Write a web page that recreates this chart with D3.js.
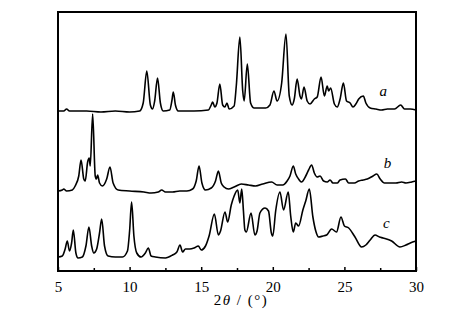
<!DOCTYPE html>
<html lang="en">
<head>
<meta charset="UTF-8" />
<title>XRD patterns</title>
<script src="https://d3js.org/d3.v7.js"></script>
<style>
    body { margin: 0; background: #fff; }
    svg { display: block; }
    text { font-family: "Liberation Serif", serif; }
</style>
</head>
<body>
<script>
    var w = 473;
    var h = 325;

    // 2theta (deg), intensity (arb. units, traces already offset)
    var traceA = [
        [5.0,160],[5.4,160],[5.6,162],[5.8,160],[7,160],[8,159],[9,160],[10,159],[10.7,160],
        [10.95,168],[11.2,200],[11.45,166],[11.6,162],[11.75,170],[11.95,193],[12.15,168],[12.35,160],
        [12.8,161],[12.95,170],[13.05,179],[13.2,166],[13.4,160],[14.5,160],[15.5,161],[15.7,166],
        [15.8,169],[15.95,164],[16.1,168],[16.3,187],[16.5,166],[16.65,164],[16.8,168],[16.95,162],
        [17.3,165],[17.45,185],[17.7,234],[17.9,180],[18.0,170],[18.22,207],[18.45,168],[18.7,163],
        [19.5,163],[19.8,166],[20.08,180],[20.3,170],[20.62,188],[20.92,237],[21.15,175],[21.35,166],
        [21.5,172],[21.7,192],[21.9,175],[22.0,172],[22.18,184],[22.4,170],[22.6,167],[22.9,172],
        [23.1,174],[23.37,194],[23.6,175],[23.8,185],[23.9,180],[24.04,183],[24.3,167],[24.5,164],
        [24.7,172],[24.93,188],[25.15,170],[25.4,168],[25.6,164],[25.8,167],[26.0,172],[26.32,175],
        [26.5,168],[26.8,163],[27.2,162],[27.6,161],[28.0,162],[28.5,162],[28.93,166],[29.2,162],
        [29.6,162],[30,161]
    ];
    var traceB = [
        [5.0,80],[5.3,81],[5.4,82],[5.6,80],[6.0,81],[6.2,85],[6.45,95],[6.61,111],[6.8,92],[6.9,90],
        [7.07,109],[7.18,113],[7.25,105],[7.42,157],[7.6,95],[7.68,92],[7.77,96],[7.9,88],[8.1,85],
        [8.4,92],[8.63,104],[8.85,88],[9.2,81],[10,80],[11,79],[11.5,78],[12.0,79],[12.24,81],[12.5,79],
        [13,79],[13.5,80],[14.0,80],[14.4,82],[14.65,90],[14.85,105],[15.05,88],[15.3,81],[15.7,83],
        [16.0,90],[16.2,100],[16.4,88],[16.6,84],[16.9,82],[17.3,84],[17.8,87],[18.3,86],[18.8,85],
        [19.3,87],[19.92,89],[20.3,86],[20.7,86],[21.0,90],[21.2,95],[21.43,105],[21.6,97],[21.8,92],
        [22.0,89],[22.3,95],[22.5,101],[22.71,106],[22.9,98],[23.1,94],[23.3,95],[23.55,90],[23.8,89],
        [24.0,91],[24.2,88],[24.5,88],[24.7,91],[25.07,92],[25.3,88],[25.7,88],[26.0,90],[26.3,91],
        [26.6,92],[27.0,95],[27.26,97],[27.5,92],[27.8,88],[28.2,88],[28.6,88],[29.0,89],[29.3,88],
        [29.7,89],[30,90]
    ];
    var traceC = [
        [5.0,14],[5.3,15],[5.5,22],[5.65,30],[5.8,20],[5.95,28],[6.07,41],[6.25,18],[6.4,13],[6.7,14],
        [6.95,25],[7.16,44],[7.35,25],[7.5,18],[7.7,22],[7.9,38],[8.05,52],[8.25,25],[8.5,15],[9.0,14],
        [9.5,14],[9.85,20],[10.0,40],[10.14,69],[10.3,35],[10.5,18],[10.8,14],[11.1,18],[11.31,23],
        [11.5,15],[11.8,14],[12.5,13],[13.0,16],[13.3,19],[13.52,26],[13.7,19],[13.9,22],[14.2,22],
        [14.5,23],[14.8,25],[15.0,21],[15.3,25],[15.55,35],[15.92,57],[16.2,36],[16.35,40],[16.66,59],
        [16.85,49],[17.1,66],[17.3,75],[17.55,81],[17.7,68],[17.83,82],[17.95,60],[18.05,41],[18.15,39],
        [18.48,58],[18.75,36],[18.9,40],[19.1,58],[19.46,63],[19.7,60],[19.9,38],[20.0,35],[20.2,60],
        [20.5,79],[20.75,61],[21.08,79],[21.25,55],[21.43,39],[21.6,48],[21.8,45],[22.1,61],[22.3,70],
        [22.55,82],[22.8,54],[23.0,40],[23.2,34],[23.5,35],[23.76,36],[24.11,42],[24.45,39],[24.76,54],
        [25.0,45],[25.3,43],[25.74,34],[26.2,24],[26.5,26],[26.8,31],[27.14,36],[27.45,34],[27.7,33],
        [28.3,30],[28.88,24],[29.3,26],[29.6,28],[30,30]
    ];
    var traces = [traceA, traceB, traceC];
    var traceNames = ["a", "b", "c"];
    // label anchor points (2theta, intensity)
    var labelPos = [[27.45, 175], [27.75, 103], [27.7, 43]];

    var majorTicks = [5, 10, 15, 20, 25, 30];
    var minorTicks = [7.5, 12.5, 17.5, 22.5, 27.5];

    var margin = {left: 58, top: 12, right: 57, bottom: 54};
    var pw = w - margin.left - margin.right;
    var ph = h - margin.top - margin.bottom;

    var svg = d3.select("body")
                .append("svg")
                .attr("width", w)
                .attr("height", h);

    var xScale = d3.scaleLinear()
        .domain([5, 30])
        .range([margin.left, margin.left + pw]);

    var yScale = d3.scaleLinear()
        .domain([0, ph])
        .range([margin.top + ph, margin.top]);

    var line = d3.line()
        .curve(d3.curveMonotoneX)
        .x(function(d){ return xScale(d[0]); })
        .y(function(d){ return yScale(d[1]); });

    svg.selectAll(".trace")
        .data(traces)
        .enter()
        .append("path")
        .attr("class", "trace")
        .attr("d", line)
        .attr("fill", "none")
        .attr("stroke", "#000")
        .attr("stroke-width", 1.6)
        .attr("stroke-linejoin", "round");

    svg.selectAll(".lbl")
        .data(traceNames)
        .enter()
        .append("text")
        .attr("class", "lbl")
        .attr("x", function(d, i){ return xScale(labelPos[i][0]); })
        .attr("y", function(d, i){ return yScale(labelPos[i][1]); })
        .style("font-style", "italic")
        .style("font-size", "15px")
        .text(function(d){ return d; });

    // frame
    svg.append("rect")
        .attr("x", margin.left)
        .attr("y", margin.top)
        .attr("width", pw)
        .attr("height", ph)
        .attr("fill", "none")
        .attr("stroke", "#000")
        .attr("stroke-width", 2);

    var xAxis = d3.axisBottom(xScale)
        .tickValues(majorTicks)
        .tickSizeInner(-4)
        .tickSizeOuter(0)
        .tickPadding(10)
        .tickFormat(d3.format("d"));

    var gx = svg.append("g")
        .attr("transform", "translate(0," + (margin.top + ph) + ")")
        .call(xAxis);
    gx.select(".domain").remove();
    gx.selectAll("text")
        .style("font-family", "'Liberation Serif', serif")
        .style("font-size", "15px")
        .attr("fill", "#000");
    gx.selectAll("line").attr("stroke-width", 1.5);

    var gm = svg.append("g")
        .attr("transform", "translate(0," + (margin.top + ph) + ")")
        .call(d3.axisBottom(xScale).tickValues(minorTicks).tickSizeInner(-3).tickSizeOuter(0).tickFormat(""));
    gm.select(".domain").remove();
    gm.selectAll("line").attr("stroke-width", 1.5);

    var title = svg.append("text")
        .attr("x", margin.left + pw / 2 + 4)
        .attr("y", 305)
        .attr("text-anchor", "middle")
        .style("font-size", "15px")
        .style("letter-spacing", "1.5px");
    title.append("tspan").text("2");
    title.append("tspan").style("font-style", "italic").text("θ");
    title.append("tspan").text(" / (°)");
</script>
</body>
</html>
